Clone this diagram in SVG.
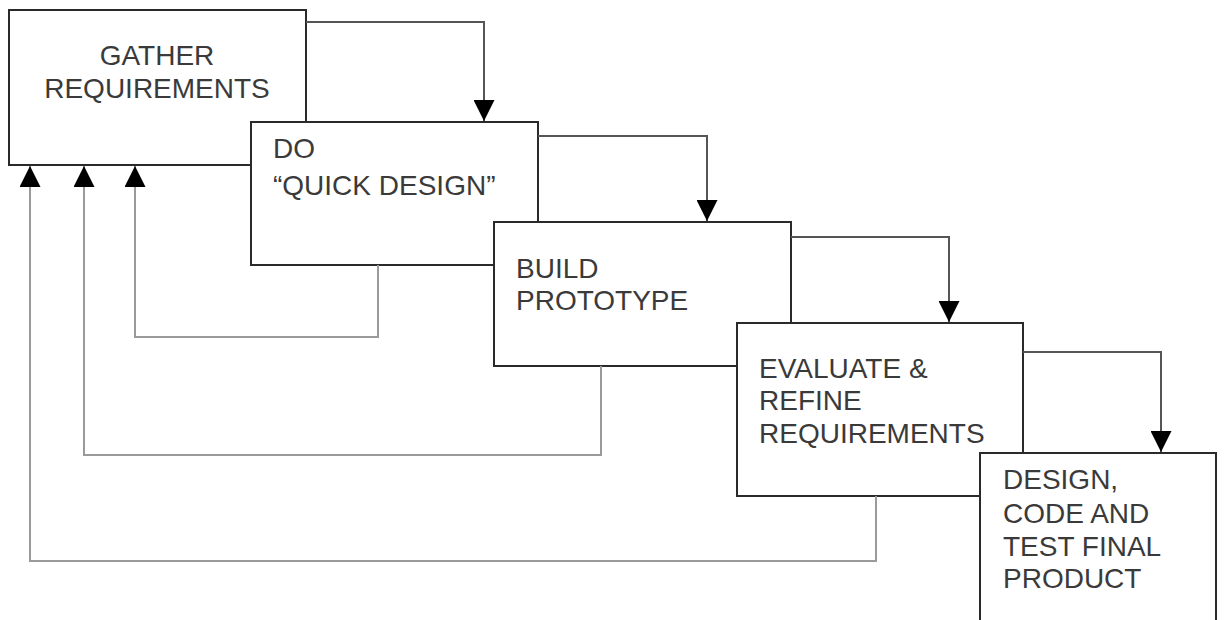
<svg xmlns="http://www.w3.org/2000/svg" width="1226" height="620" viewBox="0 0 1226 620">
<style>
.box{fill:#fff;stroke:#2a2a2a;stroke-width:2}
.lbl{font-family:"Liberation Sans",Arial,sans-serif;font-size:28px;fill:#3a3a3a}
.fwd{fill:none;stroke:#555;stroke-width:2}
.back{fill:none;stroke:#9a9a9a;stroke-width:2}
</style>
<defs>
<marker id="ah" viewBox="0 0 20 20" refX="20" refY="10" markerWidth="21" markerHeight="21" markerUnits="userSpaceOnUse" orient="auto">
<path d="M0,0 L20,10 L0,20 Z" fill="#000"/>
</marker>
</defs>
<rect width="1226" height="620" fill="#fff"/>
<g id="n1"><rect class="box" x="9" y="10" width="297" height="155"/>
<text class="lbl" x="157" y="65" text-anchor="middle">GATHER</text>
<text class="lbl" x="157" y="98" text-anchor="middle">REQUIREMENTS</text></g>
<g id="n2"><rect class="box" x="251" y="122" width="287" height="143"/>
<text class="lbl" x="273" y="158">DO</text>
<text class="lbl" x="273" y="195">“QUICK DESIGN”</text></g>
<g id="n3"><rect class="box" x="494" y="222" width="297" height="144"/>
<text class="lbl" x="516" y="278">BUILD</text>
<text class="lbl" x="516" y="310">PROTOTYPE</text></g>
<g id="n4"><rect class="box" x="737" y="323" width="286" height="173"/>
<text class="lbl" x="759" y="378">EVALUATE &amp;</text>
<text class="lbl" x="759" y="410">REFINE</text>
<text class="lbl" x="759" y="443">REQUIREMENTS</text></g>
<g id="n5"><rect class="box" x="980" y="453" width="236" height="180"/>
<text class="lbl" x="1003" y="489">DESIGN,</text>
<text class="lbl" x="1003" y="523">CODE AND</text>
<text class="lbl" x="1003" y="556">TEST FINAL</text>
<text class="lbl" x="1003" y="588">PRODUCT</text></g>
<g id="connectors">
<path class="fwd" d="M306,22 H484 V121" marker-end="url(#ah)"/>
<path class="fwd" d="M538,136 H707 V221" marker-end="url(#ah)"/>
<path class="fwd" d="M791,237 H949 V322" marker-end="url(#ah)"/>
<path class="fwd" d="M1023,352 H1161 V452" marker-end="url(#ah)"/>
<path class="back" d="M378,265 V337 H135 V166" marker-end="url(#ah)"/>
<path class="back" d="M601,366 V455 H84 V166" marker-end="url(#ah)"/>
<path class="back" d="M876,496 V561 H30 V166" marker-end="url(#ah)"/>
</g>
</svg>
